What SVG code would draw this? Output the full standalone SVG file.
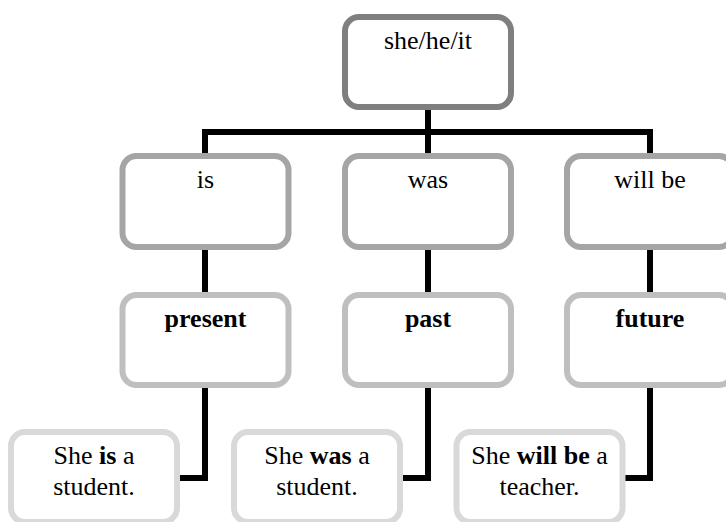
<svg xmlns="http://www.w3.org/2000/svg" width="726" height="522" viewBox="0 0 726 522">
  <style>
    .box { fill: #ffffff; stroke-width: 6; }
    .lvl0 { stroke: #7f7f7f; }
    .lvl1 { stroke: #a5a5a5; }
    .lvl2 { stroke: #bfbfbf; }
    .lvl3 { stroke: #d9d9d9; }
    .link { fill: none; stroke: #000000; stroke-width: 6; stroke-linejoin: miter; stroke-linecap: butt; }
    .t { font-family: "Liberation Serif", "DejaVu Serif", serif; font-size: 26px; fill: #000000; text-anchor: middle; }
    .b { font-weight: bold; }
  </style>
  <rect width="726" height="522" fill="#ffffff"/>

  <g id="connectors">
    <path class="link" d="M428,110 V155"/>
    <path class="link" d="M205,155 V132 H650 V155"/>
    <path class="link" d="M205,248 V294"/>
    <path class="link" d="M428,248 V294"/>
    <path class="link" d="M650,248 V294"/>
    <path class="link" d="M205,386 V478 H178"/>
    <path class="link" d="M428,386 V478 H401"/>
    <path class="link" d="M650,386 V478 H623"/>
  </g>

  <g id="node-pronoun">
    <rect class="box lvl0" x="345" y="17" width="166" height="90" rx="14"/>
    <text class="t" x="428" y="49">she/he/it</text>
  </g>

  <g id="node-is">
    <rect class="box lvl1" x="122.5" y="156" width="166" height="91" rx="14"/>
    <text class="t" x="205.5" y="188">is</text>
  </g>
  <g id="node-was">
    <rect class="box lvl1" x="345" y="156" width="166" height="91" rx="14"/>
    <text class="t" x="428" y="188">was</text>
  </g>
  <g id="node-will-be">
    <rect class="box lvl1" x="567" y="156" width="166" height="91" rx="14"/>
    <text class="t" x="650" y="188">will be</text>
  </g>

  <g id="node-present">
    <rect class="box lvl2" x="122.5" y="295" width="166" height="90" rx="14"/>
    <text class="t b" x="205.5" y="327">present</text>
  </g>
  <g id="node-past">
    <rect class="box lvl2" x="345" y="295" width="166" height="90" rx="14"/>
    <text class="t b" x="428" y="327">past</text>
  </g>
  <g id="node-future">
    <rect class="box lvl2" x="567" y="295" width="166" height="90" rx="14"/>
    <text class="t b" x="650" y="327">future</text>
  </g>

  <g id="node-example-present">
    <rect class="box lvl3" x="11" y="432" width="166" height="90" rx="14"/>
    <text class="t" x="94" y="464">She <tspan class="b">is</tspan> a</text>
    <text class="t" x="94" y="495">student.</text>
  </g>
  <g id="node-example-past">
    <rect class="box lvl3" x="234" y="432" width="166" height="90" rx="14"/>
    <text class="t" x="317" y="464">She <tspan class="b">was</tspan> a</text>
    <text class="t" x="317" y="495">student.</text>
  </g>
  <g id="node-example-future">
    <rect class="box lvl3" x="456.5" y="432" width="166" height="90" rx="14"/>
    <text class="t" x="539.5" y="464">She <tspan class="b">will be</tspan> a</text>
    <text class="t" x="539.5" y="495">teacher.</text>
  </g>
</svg>
